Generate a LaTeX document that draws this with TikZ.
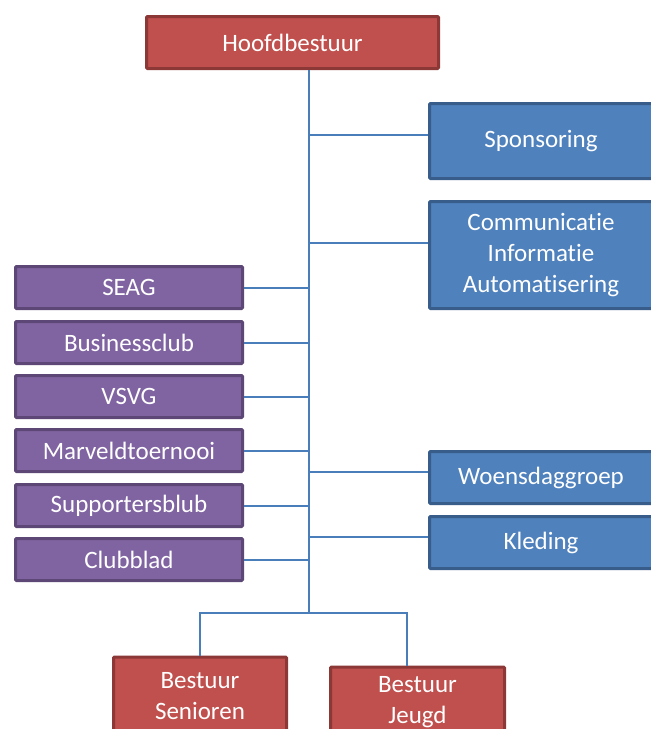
\documentclass[tikz,border=0pt]{standalone}
\usepackage{fontspec}
\setmainfont{Carlito}[RawFeature={-liga;-calt;-clig;-dlig}]
\definecolor{rfill}{HTML}{C0504D}
\definecolor{rline}{HTML}{8C3836}
\definecolor{bfill}{HTML}{4F81BD}
\definecolor{bline}{HTML}{385D8A}
\definecolor{pfill}{HTML}{8064A2}
\definecolor{pline}{HTML}{5C4776}
\definecolor{conn}{HTML}{4A7EBB}
\tikzset{
  box/.style={draw, line width=3pt, rounded corners=1pt, text=white, align=center,
    inner sep=0pt, font=\fontsize{25}{31}\selectfont},
  redbox/.style={box, fill=rfill, draw=rline},
  bluebox/.style={box, fill=bfill, draw=bline, minimum width=223pt},
  purplebox/.style={box, fill=pfill, draw=pline, minimum width=227pt, minimum height=42pt},
  link/.style={draw=conn, line width=2pt}
}
\begin{document}
\begin{tikzpicture}[x=1pt,y=1pt]
\clip (0,0) rectangle (651,-729);
\fill[white] (0,0) rectangle (651,-729);
% nodes
\node[redbox, minimum width=292pt, minimum height=52pt] (hb) at (292.5,-42.5) {Hoofdbestuur};
\node[bluebox, minimum height=75pt] (spon) at (541,-141) {Sponsoring};
\node[bluebox, minimum height=107pt] (cia) at (541,-255) {Communicat\kern0pt ie\\Informat\kern0pt ie\\Automat\kern0pt isering};
\node[bluebox, minimum height=52pt] (woe) at (541,-477.5) {Woensdaggroep};
\node[bluebox, minimum height=52pt] (kle) at (541,-542.5) {Kleding};
\node[purplebox] (seag) at (129,-287.5) {SEAG};
\node[purplebox] (bus) at (129,-342.5) {Businessclub};
\node[purplebox] (vsvg) at (129,-396.5) {VSVG};
\node[purplebox] (mar) at (129,-450.5) {Marveldtoernooi};
\node[purplebox] (sup) at (129,-505.5) {Supportersblub};
\node[purplebox] (club) at (129,-559.5) {Clubblad};
\node[redbox, minimum width=173pt, minimum height=78pt] (sen) at (200,-696) {Bestuur\\Senioren};
\node[redbox, minimum width=174pt, minimum height=70pt] (jeu) at (417.5,-702) {Bestuur\\Jeugd};
% connectors
\coordinate (sp) at (309,-613);
\draw[link] (hb.south -| sp) -- (sp);
\draw[link] ([yshift=6pt]spon.west) -- ([yshift=6pt]spon.west -| sp);
\draw[link] ([yshift=12pt]cia.west) -- ([yshift=12pt]cia.west -| sp);
\draw[link] ([yshift=5.5pt]woe.west) -- ([yshift=5.5pt]woe.west -| sp);
\draw[link] ([yshift=5.5pt]kle.west) -- ([yshift=5.5pt]kle.west -| sp);
\foreach \n in {seag,bus,vsvg,mar,sup,club}
  \draw[link] (\n.east) -- (\n.east -| sp);
\draw[link] (sen.north) -- (sen.north |- sp) -- (sp);
\draw[link] ([xshift=-10.5pt]jeu.north) -- ([xshift=-10.5pt]jeu.north |- sp) -- (sp);
\end{tikzpicture}
\end{document}
